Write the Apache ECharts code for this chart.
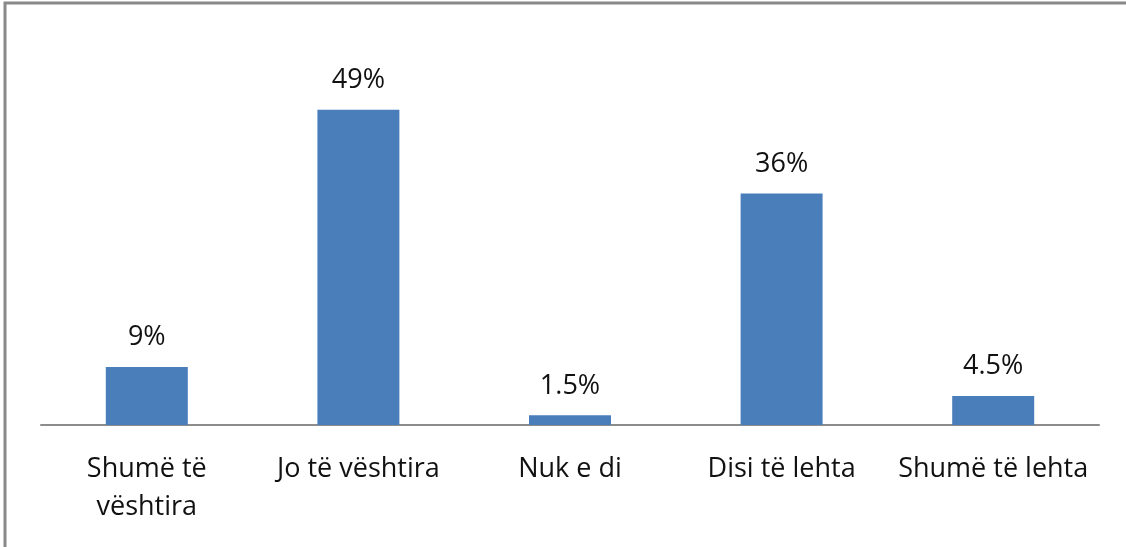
<!DOCTYPE html>
<html>
<head>
<meta charset="utf-8">
<script src="https://cdn.jsdelivr.net/npm/echarts@6/dist/echarts.min.js"></script>
<style>
  html, body { margin: 0; padding: 0; background: #fff; }
  #chart { width: 1126px; height: 547px; }
</style>
</head>
<body>
<div id="chart"></div>
<script>
const categories = ['Shumë të\nvështira', 'Jo të vështira', 'Nuk e di', 'Disi të lehta', 'Shumë të lehta']
const values = [9, 49, 1.5, 36, 4.5]

const chart = echarts.init(document.getElementById('chart'))

const option = {
  animation: false,
  textStyle: { fontFamily: '"Open Sans", sans-serif' },
  graphic: [{
    type: 'rect',
    shape: { x: 5, y: 3, width: 1140, height: 560 },
    style: { fill: 'none', stroke: '#898989', lineWidth: 3 }
  }],
  grid: { left: 41, right: 27, top: 39, bottom: 122 },
  xAxis: {
    type: 'category',
    data: categories,
    axisLine: { lineStyle: { color: '#8c8c8c', width: 2 } },
    axisTick: { show: false },
    axisLabel: {
      color: '#111',
      fontSize: 27,
      lineHeight: 38,
      margin: 25,
      interval: 0
    }
  },
  yAxis: {
    type: 'value',
    min: 0,
    max: 60,
    show: false,
    splitLine: { show: false }
  },
  series: [{
    type: 'bar',
    data: values,
    barWidth: 82,
    itemStyle: { color: '#4a7ebb' },
    label: {
      show: true,
      position: 'top',
      distance: 16,
      color: '#111',
      fontSize: 27,
      formatter: p => p.value + '%'
    }
  }]
}

chart.setOption(option)
</script>
</body>
</html>
